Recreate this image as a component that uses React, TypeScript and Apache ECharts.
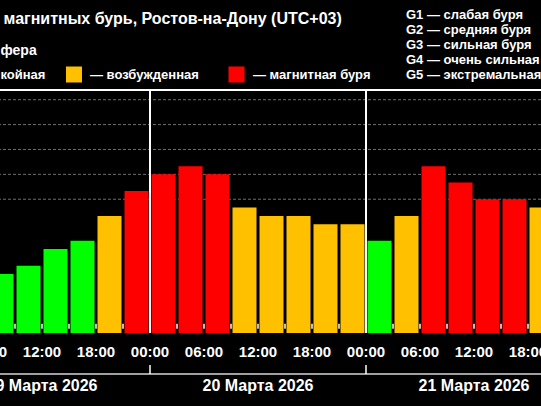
import React, { useEffect, useRef } from "react";
import * as echarts from "echarts";

// 3-hour slots, hours counted from 19 March 00:00 (UTC+03)
const slotStartHours = [6, 9, 12, 15, 18, 21, 24, 27, 30, 33, 36, 39, 42, 45, 48, 51, 54, 57, 60, 63, 66];
const kpValues = [2.0, 2.33, 3.0, 3.33, 4.33, 5.33, 6.0, 6.33, 6.0, 4.67, 4.33, 4.33, 4.0, 4.0, 3.33, 4.33, 6.33, 5.67, 5.0, 5.0, 4.67];
const dayLabels = ["19 Марта 2026", "20 Марта 2026", "21 Марта 2026"];
const dayMidHours = [12, 36, 60];
const dayBoundaryHours = [24, 48];
const stormLevels = [5, 6, 7, 8, 9];
const stormScale = [
  "G1 — слабая буря",
  "G2 — средняя буря",
  "G3 — сильная буря",
  "G4 — очень сильная",
  "G5 — экстремальная",
];
// visible parts of the (cropped) header texts
const legendLabels = ["койная", "— возбужденная", "— магнитная буря"];
const titleText = "магнитных бурь, Ростов-на-Дону (UTC+03)";
const subtitleText = "фера";

const SLOT = 3;
const X_MIN = 6;
const X_MAX = 69;
const Y_MIN = -0.375;
const Y_MAX = 9.39;

const GREEN = "#00ff00";
const YELLOW = "#ffc000";
const RED = "#ff0000";
const legendColors = [GREEN, YELLOW, RED];

const FONT = '"Liberation Sans", Arial, sans-serif';

function colorFor(v: number) {
  if (v >= 5) return RED;
  if (v >= 4) return YELLOW;
  return GREEN;
}

export default function App() {
  const ref = useRef<HTMLDivElement>(null);

  useEffect(() => {
    if (!ref.current) return;
    const chart = echarts.init(ref.current, null, { renderer: "svg" });

    const barData = slotStartHours.map((h, i) => [h, kpValues[i]]);

    const gridSeries = stormLevels.map((lvl) => ({
      type: "line",
      silent: true,
      symbol: "none",
      z: 1,
      xAxisIndex: 0,
      yAxisIndex: 0,
      data: [
        [X_MIN, lvl],
        [X_MAX, lvl],
      ],
      lineStyle: { color: "#6e6e6e", width: 1, type: [3, 2] },
    }));

    const textStyle = (size: number) => ({
      fill: "#fff",
      fontSize: size,
      fontWeight: "bold",
      fontFamily: FONT,
    });

    const option: any = {
      animation: false,
      backgroundColor: "#000",
      grid: { left: -12, right: -14, top: 90, bottom: 73, outerBoundsMode: "none", containLabel: false },
      xAxis: [
        {
          type: "value",
          min: X_MIN,
          max: X_MAX,
          interval: SLOT,
          position: "bottom",
          axisLine: { show: false },
          axisTick: { show: true, length: 5, lineStyle: { color: "#fff", width: 1.5 } },
          axisLabel: {
            color: "#fff",
            fontSize: 15,
            fontWeight: "bold",
            fontFamily: FONT,
            margin: 11,
            showMaxLabel: false,
            hideOverlap: false,
            formatter: (v: number) => {
              if (v % 6 !== 0) return "";
              const hh = v % 24;
              return (hh < 10 ? "0" : "") + hh + ":00";
            },
          },
          splitLine: { show: false },
        },
        {
          type: "value",
          min: X_MIN,
          max: X_MAX,
          position: "bottom",
          offset: 41,
          axisLine: { show: true, lineStyle: { color: "#a0a0a0", width: 2 } },
          axisTick: {
            show: true,
            inside: true,
            length: 9,
            customValues: dayBoundaryHours,
            lineStyle: { color: "#fff", width: 1.5 },
          },
          axisLabel: {
            customValues: dayMidHours,
            color: "#fff",
            fontSize: 16,
            fontWeight: "bold",
            fontFamily: FONT,
            margin: 3,
            formatter: (v: number) => dayLabels[dayMidHours.indexOf(v)] ?? "",
          },
          splitLine: { show: false },
        },
        {
          type: "value",
          min: X_MIN,
          max: X_MAX,
          position: "top",
          axisLine: { show: true, lineStyle: { color: "#fff", width: 2 } },
          axisTick: { show: false },
          axisLabel: { show: false },
          splitLine: { show: false },
        },
      ],
      yAxis: {
        type: "value",
        min: Y_MIN,
        max: Y_MAX,
        show: false,
        splitLine: { show: false },
      },
      series: [
        ...gridSeries,
        {
          type: "custom",
          z: 2,
          xAxisIndex: 0,
          yAxisIndex: 0,
          data: barData,
          renderItem: (params: any, api: any) => {
            const center = api.value(0) + SLOT / 2;
            const v = api.value(1);
            const top = api.coord([center, v]);
            const base = api.coord([center, Y_MIN]);
            const w = api.size([SLOT, 0])[0] - 3;
            return {
              type: "rect",
              shape: { x: top[0] - w / 2, y: top[1], width: w, height: base[1] - top[1] },
              style: { fill: colorFor(v) },
            };
          },
          markLine: {
            silent: true,
            symbol: "none",
            label: { show: false },
            lineStyle: { color: "#fff", width: 2, type: "solid" },
            data: dayBoundaryHours.map((h) => ({ xAxis: h })),
          },
        },
      ],
      graphic: [
        {
          type: "text",
          x: 3.5,
          y: 18.5,
          style: { ...textStyle(16), text: titleText, align: "left", verticalAlign: "middle" },
        },
        {
          type: "text",
          x: 0.5,
          y: 49.5,
          style: { ...textStyle(14), text: subtitleText, align: "left", verticalAlign: "middle" },
        },
        // legend row
        {
          type: "text",
          x: 0.5,
          y: 74.5,
          style: { ...textStyle(13), text: legendLabels[0], align: "left", verticalAlign: "middle" },
        },
        { type: "rect", shape: { x: 66, y: 66.5, width: 16, height: 16 }, style: { fill: legendColors[1] } },
        {
          type: "text",
          x: 90,
          y: 74.5,
          style: { ...textStyle(13), text: legendLabels[1], align: "left", verticalAlign: "middle" },
        },
        { type: "rect", shape: { x: 228.5, y: 66.5, width: 16, height: 16 }, style: { fill: legendColors[2] } },
        {
          type: "text",
          x: 253,
          y: 74.5,
          style: { ...textStyle(13), text: legendLabels[2], align: "left", verticalAlign: "middle" },
        },
        ...stormScale.map((t, i) => ({
          type: "text",
          x: 406,
          y: 14.5 + i * 15,
          style: { ...textStyle(13), text: t, align: "left", verticalAlign: "middle" },
        })),
      ],
    };

    chart.setOption(option);
    return () => chart.dispose();
  }, []);

  return (
    <div
      ref={ref}
      style={{ position: "fixed", left: 0, top: 0, width: 541, height: 406, background: "#000" }}
    />
  );
}
